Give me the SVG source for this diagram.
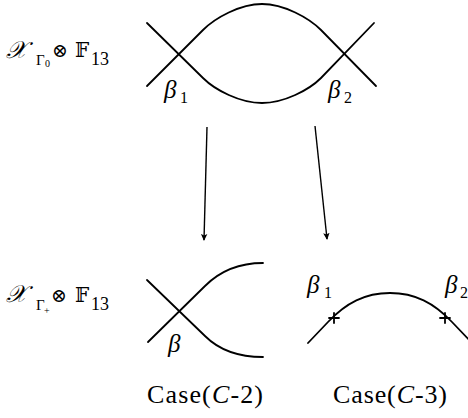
<svg xmlns="http://www.w3.org/2000/svg" width="468" height="418" viewBox="0 0 468 418">
<style>
.ln{fill:none;stroke:#000;stroke-width:1.8;stroke-linecap:round}
.ar{fill:none;stroke:#000;stroke-width:1.4}
.lab{font-family:"Liberation Serif","Times New Roman","DejaVu Serif",serif;fill:#000}
.beta{font-family:"Liberation Serif","Times New Roman","DejaVu Serif",serif;font-style:italic;font-size:25px}
.sub{font-family:"Liberation Serif","Times New Roman",serif;font-size:16px}
.math{font-family:"DejaVu Serif","DejaVu Sans","Noto Sans",serif}
</style>
<defs>
<marker id="ah" markerWidth="8" markerHeight="8" refX="6" refY="4" orient="auto" markerUnits="userSpaceOnUse">
<path d="M0,0.8 L7,4 L0,7.2 L1.5,4 Z" fill="#000"/>
</marker>
</defs>
<rect width="468" height="418" fill="#fff"/>
<g id="label-top">
<text class="math" x="6" y="58" font-size="24" font-style="italic">𝒳</text>
<text class="lab" x="36" y="65" font-size="15">Γ</text>
<text class="lab" x="45" y="67" font-size="10">0</text>
<text class="math" x="52" y="57" font-size="19">⊗</text>
<text class="math" x="75" y="57" font-size="20">𝔽</text>
<text class="lab" x="91" y="65" font-size="18">13</text>
</g>
<g id="label-bottom">
<text class="math" x="6" y="302" font-size="24" font-style="italic">𝒳</text>
<text class="lab" x="36" y="310" font-size="15">Γ</text>
<text class="lab" x="44" y="314" font-size="10">+</text>
<text class="math" x="51" y="302" font-size="19">⊗</text>
<text class="math" x="75" y="302" font-size="20">𝔽</text>
<text class="lab" x="91" y="310" font-size="18">13</text>
</g>
<g id="top-diagram">
<path class="ln" d="M147,86 L203,30 C215,18 240,4 262,4 C284,4 309,18 321,30 L376,86"/>
<path class="ln" d="M147,23 L203,78 C215,90 240,103 262,103 C284,103 309,90 321,78 L374,23"/>
<text class="beta" x="164" y="98">β</text><text class="sub" x="180" y="103">1</text>
<text class="beta" x="328" y="98">β</text><text class="sub" x="344" y="103">2</text>
</g>
<g id="case-c2">
<path class="ln" d="M148,342 L205,286 C220,271 240,263 263,263"/>
<path class="ln" d="M147,280 L205,336 C220,351 240,357 263,357"/>
<text class="beta" x="168" y="352">β</text>
</g>
<g id="case-c3">
<path class="ln" d="M308,343 L328,322 C346,303 365,293 390,293 C415,293 434,303 452,322 L472,343"/>
<path class="ln" stroke-width="2.2" d="M334,313 L334,323 M329,318 L339,318"/>
<path class="ln" stroke-width="2.2" d="M445,313 L445,323 M440,318 L450,318"/>
<text class="beta" x="307" y="293">β</text><text class="sub" x="324" y="298">1</text>
<text class="beta" x="445" y="293">β</text><text class="sub" x="460" y="298">2</text>
</g>
<g id="connectors">
<line class="ar" x1="207" y1="127" x2="204" y2="240" marker-end="url(#ah)"/>
<line class="ar" x1="315" y1="126" x2="327" y2="239" marker-end="url(#ah)"/>
</g>
<g id="captions">
<text class="lab" x="147" y="403" font-size="26" textLength="116">Case(<tspan font-style="italic">C</tspan>-2)</text>
<text class="lab" x="333" y="403" font-size="26" textLength="114">Case(<tspan font-style="italic">C</tspan>-3)</text>
</g>
</svg>
